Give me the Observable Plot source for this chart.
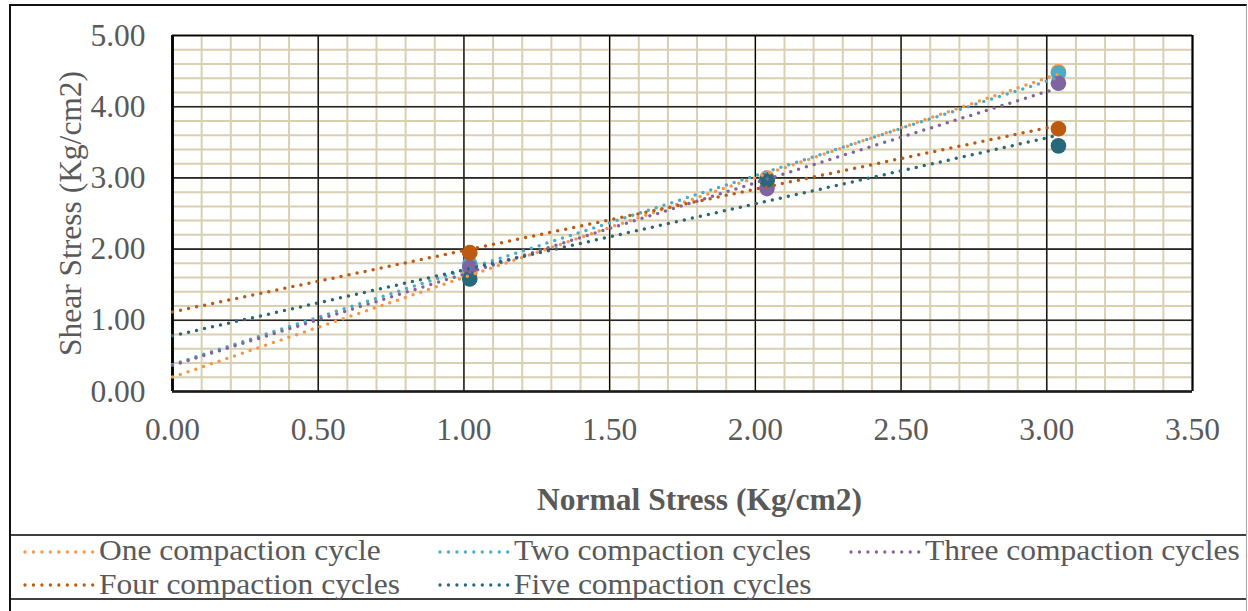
<!DOCTYPE html>
<html>
<head>
<meta charset="utf-8">
<script src="https://cdn.jsdelivr.net/npm/d3@7"></script>
<script src="https://cdn.jsdelivr.net/npm/@observablehq/plot@0.6"></script>
<style>
  html, body { margin: 0; padding: 0; background: #fff; }
  body { width: 1248px; height: 611px; overflow: hidden; position: relative;
         font-family: "Liberation Serif", "Times New Roman", serif; }
  #chart { position: absolute; left: 0; top: 0; }
  #frame { position: absolute; left: 9px; top: 4px; width: 1238px; height: 640px;
           box-sizing: border-box; border-left: 2.7px solid #111; border-top: 2px solid #111;
           border-right: 1px solid #a6a6a6; pointer-events: none; }
  #legendBox { position: absolute; left: 9px; top: 533.7px; width: 1238px; height: 66.6px;
               box-sizing: border-box; border-top: 2px solid #404040; border-bottom: 2px solid #404040; }
  .lg-text { position: absolute; height: 33.3px; line-height: 33.3px; font-size: 30px;
             color: #595959; white-space: nowrap; transform: scaleX(1.05); transform-origin: 0 50%; }
  .lg-swatch { position: absolute; }
</style>
</head>
<body>
<div id="chart"></div>
<div id="legendBox"></div>
<div id="legend"></div>
<div id="frame"></div>
<script>
// ---- data ----
const normalStress = [1.02, 2.04, 3.04];
const seriesNames = [
  "One compaction cycle",
  "Two compaction cycles",
  "Three compaction cycles",
  "Four compaction cycles",
  "Five compaction cycles"
];
const oneCycle    = [1.66, 3.00, 4.49];
const twoCycles   = [1.79, 2.97, 4.47];
const threeCycles = [1.74, 2.85, 4.33];
const fourCycles  = [1.95, 2.97, 3.69];
const fiveCycles  = [1.58, 2.97, 3.45];
const seriesColors = ["#f79646", "#4bacc6", "#8064a2", "#bb5a10", "#27687a"];

const xTicks = [0, 0.5, 1, 1.5, 2, 2.5, 3, 3.5];
const yTicks = [0, 1, 2, 3, 4, 5];
const xMinor = d3.range(0, 36).map(i => i / 10);
const yMinor = d3.range(0, 26).map(i => i / 5);
const xTitle = "Normal Stress (Kg/cm2)";
const yTitle = "Shear Stress (Kg/cm2)";

// ---- build tables ----
const seriesValues = [oneCycle, twoCycles, threeCycles, fourCycles, fiveCycles];
const points = [];
seriesValues.forEach((vals, i) => {
  vals.forEach((v, j) => points.push({series: seriesNames[i], x: normalStress[j], y: v}));
});

// linear trendlines (least squares), extended back to x = 0 like the spreadsheet
const trend = [];
seriesValues.forEach((vals, i) => {
  const mx = d3.mean(normalStress), my = d3.mean(vals);
  let sxy = 0, sxx = 0;
  normalStress.forEach((x, j) => { sxy += (x - mx) * (vals[j] - my); sxx += (x - mx) ** 2; });
  const slope = sxy / sxx, icpt = my - slope * mx;
  const xEnd = d3.max(normalStress);
  trend.push({series: seriesNames[i], x: 0, y: icpt});
  trend.push({series: seriesNames[i], x: xEnd, y: icpt + slope * xEnd});
});

const fmt = d => d.toFixed(2);

const chart = Plot.plot({
  width: 1248,
  height: 534,
  marginLeft: 172,
  marginRight: 56,
  marginTop: 35,
  marginBottom: 143,
  x: {domain: [0, 3.5]},
  y: {domain: [0, 5]},
  color: {domain: seriesNames, range: seriesColors},
  style: {
    fontFamily: "'Liberation Serif', 'Times New Roman', serif",
    fontSize: "31.5px",
    color: "#595959",
    background: "transparent",
    overflow: "visible"
  },
  marks: [
    Plot.ruleX(xMinor, {stroke: "#d9d0b2", strokeWidth: 2}),
    Plot.ruleY(yMinor, {stroke: "#d9d0b2", strokeWidth: 2}),
    Plot.ruleX(xTicks, {stroke: "#000", strokeWidth: 1.3}),
    Plot.ruleY(yTicks, {stroke: "#262626", strokeWidth: 1.6}),
    Plot.ruleX([xTicks[0]], {stroke: "#000", strokeWidth: 2.8}),
    Plot.ruleX([xTicks[xTicks.length - 1]], {stroke: "#000", strokeWidth: 2}),
    Plot.ruleY([yTicks[0]], {stroke: "#1a1a1a", strokeWidth: 2.4}),
    Plot.ruleY([yTicks[yTicks.length - 1]], {stroke: "#000", strokeWidth: 1.6}),
    Plot.axisX(xTicks, {tickSize: 0, tickPadding: 26, tickFormat: fmt, label: null}),
    Plot.axisY(yTicks, {tickSize: 0, tickPadding: 27, tickFormat: fmt, label: null}),
    Plot.dot(points, {x: "x", y: "y", fill: "series", r: 7.8}),
    Plot.line(trend, {x: "x", y: "y", z: "series", stroke: "series", strokeWidth: 3.5,
                      strokeDasharray: "0 8.2", strokeLinecap: "round"}),
    Plot.text([xTitle], {text: d => d, frameAnchor: "bottom", dx: 17, dy: 118,
                         lineAnchor: "bottom", textAnchor: "middle", fontWeight: "bold", fill: "#595959"}),
    Plot.text([yTitle], {text: d => d, frameAnchor: "left", rotate: -90, dx: -92,
                         lineAnchor: "bottom", textAnchor: "middle", fill: "#595959"})
  ]
});
document.getElementById("chart").appendChild(chart);

// ---- legend (below the chart svg) ----
const legendCols = [25, 440, 851];
const legendRows = [533.2, 566.5];
const legendLayout = [[0, 0], [0, 1], [0, 2], [1, 0], [1, 1]]; // [row, col]
const legend = document.getElementById("legend");
seriesNames.forEach((name, i) => {
  const [r, c] = legendLayout[i];
  const x0 = legendCols[c], top = legendRows[r];
  const ns = "http://www.w3.org/2000/svg";
  const svg = document.createElementNS(ns, "svg");
  svg.setAttribute("width", 74); svg.setAttribute("height", 10);
  svg.setAttribute("class", "lg-swatch");
  svg.style.left = (x0 - 2) + "px";
  svg.style.top = (top + 13.5) + "px";
  const ln = document.createElementNS(ns, "line");
  ln.setAttribute("x1", 2); ln.setAttribute("x2", 70); ln.setAttribute("y1", 5); ln.setAttribute("y2", 5);
  ln.setAttribute("stroke", seriesColors[i]); ln.setAttribute("stroke-width", 3.3);
  ln.setAttribute("stroke-linecap", "round"); ln.setAttribute("stroke-dasharray", "0 8.46");
  svg.appendChild(ln);
  legend.appendChild(svg);
  const t = document.createElement("div");
  t.className = "lg-text";
  t.style.left = (x0 + 74) + "px";
  t.style.top = top + "px";
  t.textContent = name;
  legend.appendChild(t);
});
</script>
</body>
</html>
